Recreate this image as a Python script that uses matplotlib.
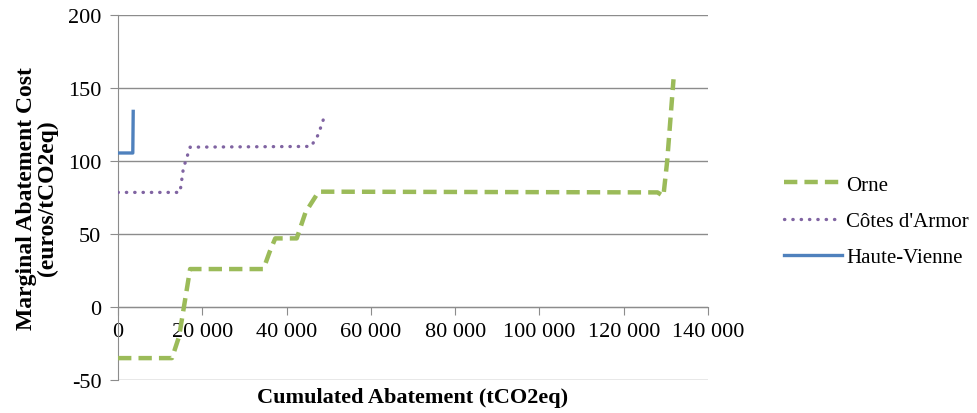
import matplotlib
matplotlib.use("Agg")
import matplotlib.pyplot as plt
from matplotlib.ticker import FuncFormatter

# values
orne_x = [0, 12800, 14500, 17100, 34500, 36000, 37300, 42400, 44500, 47600, 128000, 129400, 130300, 131800]
orne_y = [-35, -35, -20, 26, 26, 38, 47, 47, 65, 79, 78.5, 76, 100, 156]

cotes_x = [0, 14700, 15500, 17100, 45800, 47500, 48900]
cotes_y = [78.5, 78.5, 95, 109.5, 110, 118, 130]

haute_x = [0, 3500, 3600]
haute_y = [105.5, 105.5, 134]

x_ticks = [0, 20000, 40000, 60000, 80000, 100000, 120000, 140000]
y_ticks = [-50, 0, 50, 100, 150, 200]

plt.rcParams['font.family'] = ['Liberation Serif', 'DejaVu Serif']
plt.rcParams['axes.unicode_minus'] = False

fig = plt.figure(figsize=(9.78, 4.14), dpi=100)
ax = fig.add_axes([0.1207, 0.0797, 0.6033, 0.8816])

grid_col = '#8c8c8c'
for v in y_ticks:
    ax.axhline(v, color=grid_col, lw=1.0, zorder=1)

ax.plot(orne_x, orne_y, color='#9bbb59', lw=3.2, ls=(0, (3, 1.6)), label='Orne', zorder=3)
ax.plot(cotes_x, cotes_y, color='#8064a2', lw=2.4, ls=(0, (0.1, 2.4)),
        dash_capstyle='round', label="Côtes d'Armor", zorder=3)
ax.plot(haute_x, haute_y, color='#4f81bd', lw=2.4, label='Haute-Vienne', zorder=3)

ax.set_xlim(0, 140000)
ax.set_ylim(-50, 200)
ax.set_xticks(x_ticks)
ax.set_yticks(y_ticks)
ax.xaxis.set_major_formatter(FuncFormatter(lambda v, p: f"{int(v):,}".replace(",", " ")))

for s in ['top', 'right']:
    ax.spines[s].set_visible(False)
ax.spines['bottom'].set_position(('data', 0))
ax.spines['bottom'].set_color(grid_col)
ax.spines['left'].set_color(grid_col)
ax.tick_params(axis='x', direction='out', length=6, color=grid_col, labelsize=16, pad=5)
ax.tick_params(axis='y', direction='out', length=6, color=grid_col, labelsize=16, pad=6)
ax.spines['left'].set_zorder(2)

ax.set_xlabel('Cumulated Abatement (tCO2eq)', fontsize=16, fontweight='bold')
ax.xaxis.set_label_coords(0.5, -0.02)
ax.set_ylabel('Marginal Abatement Cost\n(euros/tCO2eq)', fontsize=17, fontweight='bold',
              linespacing=0.95)
ax.yaxis.set_label_coords(-0.102, 0.5)

fig.legend(loc='upper left', bbox_to_anchor=(0.793, 0.595), frameon=False, fontsize=15,
           handlelength=2.8, handletextpad=0.2, labelspacing=0.8, borderaxespad=0)

fig.savefig('out.png', dpi=100)
